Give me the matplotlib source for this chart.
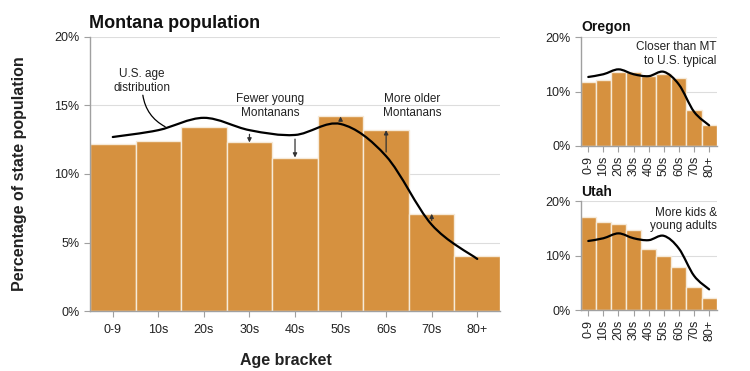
import matplotlib
matplotlib.use("Agg")
import matplotlib.pyplot as plt
from matplotlib.path import Path
from matplotlib.patches import PathPatch
import numpy as np

plt.rcParams["font.family"] = ["Liberation Sans", "DejaVu Sans"]

brackets = ["0-9", "10s", "20s", "30s", "40s", "50s", "60s", "70s", "80+"]
us = [12.7, 13.2, 14.1, 13.2, 12.85, 13.65, 11.3, 6.3, 3.8]
montana = [12.2, 12.4, 13.4, 12.3, 11.2, 14.2, 13.2, 7.1, 4.0]
oregon = [11.8, 12.1, 13.6, 13.7, 12.9, 13.2, 12.6, 6.7, 3.9]
utah = [17.2, 16.2, 15.8, 14.7, 11.2, 9.9, 8.0, 4.3, 2.3]
arrow_idx = [3, 4, 5, 6, 7]

BAR = "#d6913f"
GRID = "#dddddd"
SPINE = "#a0a0a0"
TXT = "#222222"


def smooth_curve(ax, ys, lw=1.6):
    # Catmull-Rom through the points, drawn as cubic Bezier segments
    pts = np.column_stack([np.arange(len(ys)), ys]).astype(float)
    ext = np.vstack([pts[0], pts, pts[-1]])
    verts = [pts[0]]
    codes = [Path.MOVETO]
    for i in range(len(pts) - 1):
        p0, p1, p2, p3 = ext[i], ext[i + 1], ext[i + 2], ext[i + 3]
        verts += [p1 + (p2 - p0) / 6, p2 - (p3 - p1) / 6, p2]
        codes += [Path.CURVE4] * 3
    ax.add_patch(PathPatch(Path(verts, codes), fill=False, lw=lw,
                           color="black", zorder=4, capstyle="round"))


def style(ax, yticks, rotate=False):
    x = np.arange(len(brackets))
    ax.set_xlim(-0.5, len(brackets) - 0.5)
    ax.set_ylim(0, 20)
    ax.set_yticks(yticks)
    ax.set_yticklabels(["%d%%" % v for v in yticks])
    ax.set_xticks(x)
    ax.set_xticklabels(brackets, rotation=90 if rotate else 0)
    ax.grid(axis="y", color=GRID, lw=0.8, zorder=0)
    ax.set_axisbelow(True)
    for s in ["top", "right"]:
        ax.spines[s].set_visible(False)
    for s in ["left", "bottom"]:
        ax.spines[s].set_color(SPINE)
        ax.spines[s].set_linewidth(1.0)
    ax.tick_params(colors=SPINE, labelcolor=TXT, labelsize=9, length=4,
                   width=0.8)
    ax.tick_params(axis="x", pad=5 if not rotate else 3)


def panel(ax, vals, yticks, rotate=False):
    x = np.arange(len(brackets))
    ax.bar(x, vals, width=1.0, color=BAR, edgecolor="#f6ead8", lw=1.0,
           zorder=2)
    style(ax, yticks, rotate)
    smooth_curve(ax, us)


fig = plt.figure(figsize=(7.5, 3.71), dpi=100)
ax = fig.add_axes([0.12, 0.1617, 0.5467, 0.7386])
ax_or = fig.add_axes([0.7743, 0.6065, 0.1813, 0.293])
ax_ut = fig.add_axes([0.7743, 0.1644, 0.1813, 0.293])

panel(ax, montana, [0, 5, 10, 15, 20])
panel(ax_or, oregon, [0, 10, 20], rotate=True)
panel(ax_ut, utah, [0, 10, 20], rotate=True)

for i in arrow_idx:
    ax.annotate("", xy=(i, montana[i]), xytext=(i, us[i]),
                arrowprops=dict(arrowstyle="-|>", color="#333333", lw=0.9,
                                mutation_scale=6, shrinkA=3, shrinkB=0),
                zorder=5)

ax.set_ylabel("Percentage of state population", fontsize=11.5,
              fontweight="bold", color=TXT)
ax.yaxis.set_label_coords(-0.154, 0.5)
ax.set_xlabel("Age bracket", fontsize=11.5, fontweight="bold", color=TXT)
ax.xaxis.set_label_coords(0.478, -0.153)

ax.text(0.64, 16.8, "U.S. age\ndistribution", ha="center", va="center",
        fontsize=8.5, color=TXT)
ax.annotate("", xy=(1.15, 13.45), xytext=(0.66, 15.75),
            arrowprops=dict(arrowstyle="-", color="black", lw=0.9,
                            connectionstyle="arc3,rad=0.25",
                            shrinkA=0, shrinkB=0))
ax.text(3.45, 14.96, "Fewer young\nMontanans", ha="center", va="center",
        fontsize=8.5, color=TXT)
ax.text(6.57, 14.96, "More older\nMontanans", ha="center", va="center",
        fontsize=8.5, color=TXT)

ax_or.text(1.0, 0.844, "Closer than MT\nto U.S. typical", ha="right",
           va="center", fontsize=8.5, color=TXT, transform=ax_or.transAxes)
ax_ut.text(1.0, 0.833, "More kids &\nyoung adults", ha="right",
           va="center", fontsize=8.5, color=TXT, transform=ax_ut.transAxes)

fig.text(89 / 750, 1 - 23 / 371, "Montana population", fontsize=13,
         fontweight="bold", color="#111111", va="center", ha="left")
fig.text(581 / 750, 1 - 27 / 371, "Oregon", fontsize=10, fontweight="bold",
         color="#111111", va="center", ha="left")
fig.text(581 / 750, 1 - 192 / 371, "Utah", fontsize=10, fontweight="bold",
         color="#111111", va="center", ha="left")

fig.savefig("out.png", dpi=100)
